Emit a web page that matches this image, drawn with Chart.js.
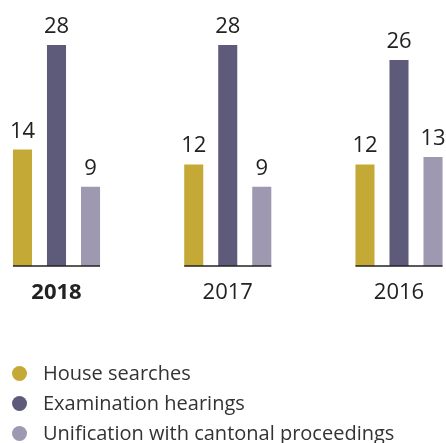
<!DOCTYPE html>
<html>
<head>
<meta charset="utf-8">
<script src="https://cdn.jsdelivr.net/npm/chart.js@4.4.1/dist/chart.umd.min.js"></script>
<style>
  html, body { margin: 0; padding: 0; background: #fff; }
  #wrap { position: relative; width: 446px; height: 443px; overflow: hidden; }
  #c { position: absolute; left: 0; top: 0; }
  #legend { position: absolute; left: 0; top: 358px; font-family: "Open Sans", sans-serif; font-size: 20px; color: #333; }
  .li { position: relative; height: 30px; line-height: 30px; padding-left: 43px; white-space: nowrap; }
  .dot { position: absolute; left: 12px; top: 7.5px; width: 15px; height: 15px; border-radius: 50%; }
</style>
</head>
<body>
<div id="wrap">
  <canvas id="c" width="446" height="443"></canvas>
  <div id="legend"></div>
</div>
<script>
const years = ["2018", "2017", "2016"];
const seriesNames = ["House searches", "Examination hearings", "Unification with cantonal proceedings"];
const houseSearches = [14, 12, 12];
const examinationHearings = [28, 28, 26];
const unification = [9, 9, 13];
const seriesColors = ["#C5A936", "#5E5A7A", "#9E98B0"];

const seriesValues = [houseSearches, examinationHearings, unification];
const FONT = '"Open Sans", sans-serif';

const valueLabels = {
  id: 'valueLabels',
  afterDatasetsDraw(chart) {
    const ctx = chart.ctx;
    ctx.save();
    ctx.font = '22px ' + FONT;
    ctx.fillStyle = '#222';
    ctx.textAlign = 'center';
    ctx.textBaseline = 'alphabetic';
    chart.data.datasets.forEach((ds, di) => {
      const meta = chart.getDatasetMeta(di);
      meta.data.forEach((bar, i) => {
        ctx.fillText(String(ds.data[i]), bar.x, bar.y - 12);
      });
    });
    ctx.restore();
  }
};

const groupBaselines = {
  id: 'groupBaselines',
  afterDatasetsDraw(chart) {
    const ctx = chart.ctx;
    const n = chart.data.datasets.length;
    const first = chart.getDatasetMeta(0);
    const last = chart.getDatasetMeta(n - 1);
    ctx.save();
    ctx.strokeStyle = '#222';
    ctx.lineWidth = 1.5;
    first.data.forEach((b, i) => {
      const e = last.data[i];
      const y = b.base;
      ctx.beginPath();
      ctx.moveTo(b.x - b.width / 2, y);
      ctx.lineTo(e.x + e.width / 2, y);
      ctx.stroke();
    });
    ctx.restore();
  }
};

const chart = new Chart(document.getElementById('c'), {
  type: 'bar',
  data: {
    labels: years,
    datasets: seriesNames.map((name, i) => ({
      label: name,
      data: seriesValues[i],
      backgroundColor: seriesColors[i],
      borderWidth: 0,
      categoryPercentage: 0.596,
      barPercentage: 0.56,
      base: -1.6,
      clip: false
    }))
  },
  options: {
    responsive: false,
    animation: false,
    events: [],
    layout: { padding: { left: 56.5, right: 47, top: 45, bottom: 122.6 } },
    plugins: { legend: { display: false }, tooltip: { enabled: false } },
    scales: {
      x: {
        offset: false,
        grid: { display: false, drawTicks: false },
        border: { display: false },
        ticks: {
          padding: 14,
          color: '#222',
          maxRotation: 0,
          autoSkip: false,
          font: (c) => ({ family: FONT, size: 22, weight: c.index === 0 ? 'bold' : 'normal' })
        }
      },
      y: {
        display: false,
        min: -1.6,
        max: 28
      }
    }
  },
  plugins: [valueLabels, groupBaselines]
});

const legend = document.getElementById('legend');
chart.data.datasets.forEach((ds) => {
  const row = document.createElement('div');
  row.className = 'li';
  const dot = document.createElement('span');
  dot.className = 'dot';
  dot.style.background = ds.backgroundColor;
  row.appendChild(dot);
  row.appendChild(document.createTextNode(ds.label));
  legend.appendChild(row);
});
</script>
</body>
</html>
